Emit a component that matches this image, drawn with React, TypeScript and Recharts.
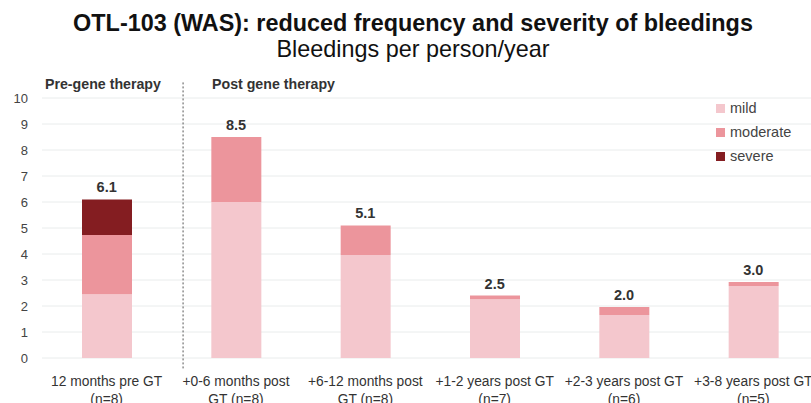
import { ComposedChart, Bar, Line, XAxis, YAxis, CartesianGrid, ReferenceLine } from 'recharts';

const periods = [
  '12 months pre GT',
  '+0-6 months post',
  '+6-12 months post',
  '+1-2 years post GT',
  '+2-3 years post GT',
  '+3-8 years post GT',
];
const periodsLine2 = ['(n=8)', 'GT (n=8)', 'GT (n=8)', '(n=7)', '(n=6)', '(n=5)'];
const mild = [2.45, 6.0, 3.96, 2.26, 1.65, 2.77];
const moderate = [2.28, 2.5, 1.14, 0.14, 0.31, 0.15];
const severe = [1.37, 0, 0, 0, 0, 0];
const totals = ['6.1', '8.5', '5.1', '2.5', '2.0', '3.0'];
const yTicks = [0, 1, 2, 3, 4, 5, 6, 7, 8, 9, 10];

const COLORS = { mild: '#f4c7cd', moderate: '#ec959c', severe: '#841d21' };

const data = periods.map((p, i) => ({
  period: p,
  mild: mild[i],
  moderate: moderate[i],
  severe: severe[i],
  top: mild[i] + moderate[i] + severe[i],
}));

const FONT = '"Liberation Sans", Arial, sans-serif';

function PeriodTick(props: any) {
  const { x, y, index } = props;
  return (
    <text x={x} y={y} textAnchor="middle" fontSize={13.8} fill="#333" fontFamily={FONT}>
      <tspan x={x} dy={20}>{periods[index]}</tspan>
      <tspan x={x} dy={18}>{periodsLine2[index]}</tspan>
    </text>
  );
}

function TotalLabel(props: any) {
  const { x, y, index } = props;
  return (
    <text
      x={x}
      y={y - 7}
      textAnchor="middle"
      fontSize={14.5}
      fontWeight="bold"
      fill="#333"
      fontFamily={FONT}
    >
      {totals[index]}
    </text>
  );
}

const legendItems = [
  { name: 'mild', color: COLORS.mild },
  { name: 'moderate', color: COLORS.moderate },
  { name: 'severe', color: COLORS.severe },
];

export default function App() {
  return (
    <div
      style={{
        position: 'absolute',
        left: 0,
        top: 0,
        width: 811,
        height: 403,
        overflow: 'hidden',
        background: '#fff',
        fontFamily: FONT,
      }}
    >
      <div style={{ position: 'absolute', left: 0, width: 826, top: 9, textAlign: 'center', fontSize: 23.4, fontWeight: 'bold', color: '#111', lineHeight: '28px' }}>
        OTL-103 (WAS): reduced frequency and severity of bleedings
      </div>
      <div style={{ position: 'absolute', left: 0, width: 826, top: 35, textAlign: 'center', fontSize: 23.4, color: '#111', lineHeight: '28px' }}>
        Bleedings per person/year
      </div>
      <div style={{ position: 'absolute', left: 45, top: 76, fontSize: 14.2, fontWeight: 'bold', color: '#333' }}>
        Pre-gene therapy
      </div>
      <div style={{ position: 'absolute', left: 212, top: 76, fontSize: 14.2, fontWeight: 'bold', color: '#333' }}>
        Post gene therapy
      </div>

      <ComposedChart
        width={830}
        height={403}
        data={data}
        margin={{ top: 98, right: 12, bottom: 0, left: 0 }}
        style={{ position: 'absolute', left: 0, top: 0 }}
      >
        <CartesianGrid vertical={false} stroke="#e9ecec" />
        <XAxis
          dataKey="period"
          height={45}
          axisLine={false}
          tickLine={false}
          interval={0}
          tick={<PeriodTick />}
        />
        <XAxis xAxisId="num" type="number" domain={[0, 5]} hide />
        <YAxis
          width={42}
          domain={[0, 10]}
          ticks={yTicks}
          axisLine={false}
          tickLine={false}
          tickSize={0}
          tickMargin={14}
          tick={{ fontSize: 13, fill: '#444', fontFamily: FONT }}
        />
        <Bar dataKey="mild" stackId="a" fill={COLORS.mild} barSize={50} isAnimationActive={false} />
        <Bar dataKey="moderate" stackId="a" fill={COLORS.moderate} barSize={50} isAnimationActive={false} />
        <Bar dataKey="severe" stackId="a" fill={COLORS.severe} barSize={50} isAnimationActive={false} />
        <Line
          dataKey="top"
          stroke="none"
          dot={false}
          activeDot={false}
          legendType="none"
          isAnimationActive={false}
          label={<TotalLabel />}
        />
        <ReferenceLine
          xAxisId="num"
          segment={[{ x: 0.909, y: -0.4 }, { x: 0.909, y: 10.6 }]}
          stroke="#555"
          strokeDasharray="2 2"
          ifOverflow="visible"
        />
      </ComposedChart>

      <div style={{ position: 'absolute', left: 716, top: 96 }}>
        {legendItems.map((it) => (
          <div key={it.name} style={{ display: 'flex', alignItems: 'center', height: 24 }}>
            <span style={{ width: 9, height: 9, background: it.color, display: 'inline-block', marginRight: 5 }} />
            <span style={{ fontSize: 14.5, color: '#444' }}>{it.name}</span>
          </div>
        ))}
      </div>
    </div>
  );
}
